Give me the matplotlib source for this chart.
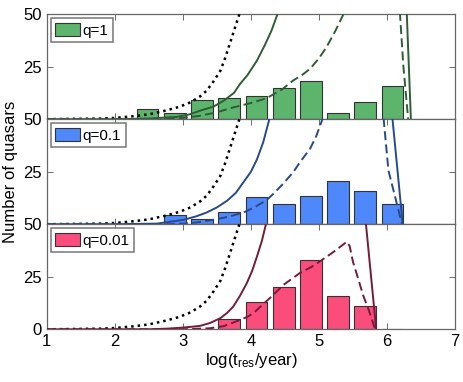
import matplotlib
matplotlib.use('Agg')
from matplotlib import pyplot as plt

plt.rcParams['font.family'] = ['Liberation Sans', 'DejaVu Sans']
plt.rcParams['mathtext.default'] = 'regular'

# histogram bins (bin centres, log t_res)
bin_centres = [2.48, 2.88, 3.28, 3.68, 4.08, 4.48, 4.88, 5.28, 5.68, 6.08]
counts_q1 = [5, 3, 9, 10, 11, 15, 18, 3, 8, 16]
counts_q01 = [0, 4.5, 2.5, 5.75, 12.8, 9.6, 13.6, 20.6, 15.7, 9.6]
counts_q001 = [0, 0, 0, 5, 13, 20, 33, 16, 11, 0]

# dotted reference curve, same in every panel
dotted_x = [1.0, 1.5, 1.78, 2.0, 2.27, 2.5, 2.76, 2.95, 3.11, 3.25, 3.35, 3.45, 3.55, 3.62, 3.69, 3.76, 3.83, 3.9]
dotted_y = [0, 0.2, 0.3, 0.6, 1.4, 2.3, 4.2, 5.9, 8, 10.8, 13.6, 18, 23, 29, 36, 43, 50, 58]

# q = 1
q1_solid_x = [1, 2, 2.5, 2.91, 3.1, 3.25, 3.45, 3.6, 3.75, 3.84, 3.95, 4.09, 4.2, 4.3, 4.39, 4.5, 5.0, 6.2, 6.29, 6.35]
q1_solid_y = [0, 0, 0.3, 1.1, 2.3, 4, 6, 8.8, 12.5, 16.8, 21, 28, 35, 42, 50, 60, 120, 120, 50, 0]
q1_dash_x = [1, 2.76, 3.0, 3.25, 3.5, 3.74, 4.0, 4.23, 4.45, 4.62, 4.75, 4.87, 5.0, 5.11, 5.24, 5.36, 5.5, 6.0, 6.19, 6.24, 6.31]
q1_dash_y = [0, 0, 0.6, 1.6, 3.3, 5.6, 7.7, 10, 14, 18.4, 21, 24, 29, 34.3, 42, 50, 60, 80, 50, 25, 0]

# q = 0.1
q01_solid_x = [1, 2, 2.62, 3.01, 3.2, 3.35, 3.5, 3.65, 3.78, 3.89, 4.0, 4.09, 4.18, 4.27, 4.4, 5.0, 6.0, 6.08, 6.23]
q01_solid_y = [0, 0, 0.3, 2.1, 3.8, 5.6, 8, 11.2, 15, 20, 25, 31, 39, 50, 65, 120, 120, 50, 0]
q01_dash_x = [1, 2.8, 3.11, 3.3, 3.5, 3.7, 3.89, 4.05, 4.23, 4.33, 4.45, 4.62, 4.72, 4.87, 4.96, 5.05, 5.5, 5.95, 6.02, 6.22]
q01_dash_y = [0, 0, 0.5, 1.3, 2.4, 3.8, 5.6, 8, 11.5, 14.5, 18.5, 24.7, 29.5, 36, 42, 50, 80, 50, 25.6, 0]

# q = 0.01
q001_solid_x = [1, 2.5, 2.76, 3.0, 3.25, 3.4, 3.55, 3.65, 3.74, 3.84, 3.94, 4.02, 4.09, 4.16, 4.22, 4.35, 5.0, 5.6, 5.69, 5.84]
q001_solid_y = [0, 0, 0.3, 0.8, 1.6, 3, 5.3, 7.8, 10.8, 16, 22, 28, 34.8, 42, 50, 65, 100, 100, 50, 0]
q001_dash_x = [1, 3.0, 3.4, 3.6, 3.74, 3.84, 3.94, 4.04, 4.13, 4.3, 4.48, 4.6, 4.72, 4.88, 5.04, 5.2, 5.41, 5.45, 5.5, 5.58, 5.65, 5.73, 5.82]
q001_dash_y = [0, 0, 0.5, 1.5, 3.2, 4.5, 5.8, 7.7, 10.5, 15.5, 21.2, 24, 26.8, 29.5, 32.9, 36.5, 41.7, 39.6, 32, 23.6, 16, 9.3, 0.5]

panels = [
    ('q=1', counts_q1, '#5db46c', '#2e5e36', q1_solid_x, q1_solid_y, q1_dash_x, q1_dash_y),
    ('q=0.1', counts_q01, '#4f88fb', '#27498e', q01_solid_x, q01_solid_y, q01_dash_x, q01_dash_y),
    ('q=0.01', counts_q001, '#fb4d7c', '#741c3c', q001_solid_x, q001_solid_y, q001_dash_x, q001_dash_y),
]

figure, axes_list = plt.subplots(3, 1, sharex=True, figsize=(4.63, 3.82), dpi=100)
figure.subplots_adjust(left=0.101, right=0.983, top=0.963, bottom=0.138, hspace=0)

for i, (label, counts, bar_color, line_color, sx, sy, dx, dy) in enumerate(panels):
    axes = axes_list[i]
    axes.bar(bin_centres, counts, width=0.32, color=bar_color, edgecolor='#333333',
             linewidth=0.8, label=label, zorder=2)
    axes.plot(dotted_x, dotted_y, color='black', linestyle=(0, (1, 1.6)), linewidth=1.8, zorder=3)
    axes.plot(sx, sy, color=line_color, linewidth=1.4, zorder=3)
    axes.plot(dx, dy, color=line_color, linestyle=(0, (4.6, 2.2)), linewidth=1.4, zorder=3)
    axes.set_xlim(1, 7)
    axes.set_ylim(0, 50)
    axes.set_yticks([0, 25, 50])
    if i < 2:
        axes.set_yticklabels(['', '25', '50'])
    else:
        axes.set_yticklabels(['0', '25', '50'])
    axes.tick_params(direction='in', top=True, right=True, labelsize=12, length=4,
                     color='#555555', width=0.6)
    for spine in axes.spines.values():
        spine.set_color('#666666')
        spine.set_linewidth(0.9)
    leg = axes.legend(loc='upper left', fontsize=11, fancybox=False, framealpha=1,
                      edgecolor='#777777', handlelength=1.6, handleheight=1.0,
                      handletextpad=0.2, borderpad=0.3, borderaxespad=0.25)
    leg.get_frame().set_linewidth(1.1)

axes_list[2].set_xticks([1, 2, 3, 4, 5, 6, 7])
axes_list[2].set_xlabel(r'log(t$_{res}$/year)', fontsize=12, labelpad=1)
axes_list[1].set_ylabel('Number of quasars', fontsize=12, labelpad=4)

figure.savefig('out.png', dpi=100)
